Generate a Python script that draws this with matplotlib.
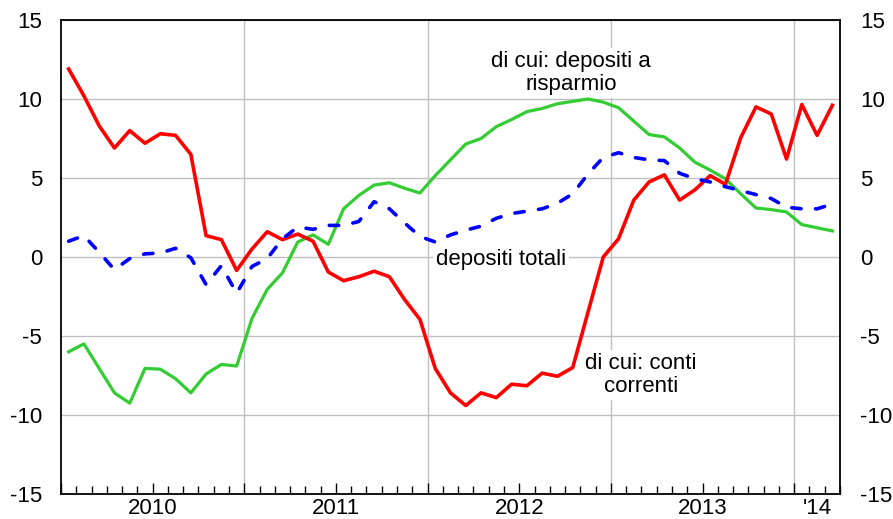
import numpy as np
import matplotlib.pyplot as plt

plt.rcParams['font.family'] = ['Liberation Sans', 'DejaVu Sans']

# monthly data, Jan 2010 - Mar 2014 (percent changes)
conti_correnti = [11.9, 10.2, 8.3, 6.9, 8.0, 7.2, 7.8, 7.7, 6.5, 1.35, 1.1, -0.85,
                  0.5, 1.6, 1.1, 1.45, 1.0, -0.95, -1.5, -1.25, -0.9, -1.25, -2.7, -3.95,
                  -7.05, -8.6, -9.4, -8.6, -8.9, -8.05, -8.15, -7.35, -7.55, -7.0, -3.5, 0.0,
                  1.15, 3.6, 4.75, 5.2, 3.6, 4.25, 5.15, 4.6, 7.55, 9.5, 9.05, 6.2,
                  9.65, 7.7, 9.6]
depositi_risparmio = [-6.0, -5.5, -7.05, -8.6, -9.25, -7.05, -7.1, -7.7, -8.6, -7.4, -6.8, -6.9,
                      -3.9, -2.05, -1.0, 0.95, 1.4, 0.8, 3.05, 3.9, 4.55, 4.7, 4.35, 4.05,
                      5.15, 6.15, 7.15, 7.5, 8.25, 8.7, 9.2, 9.4, 9.7, 9.85, 10.0, 9.8,
                      9.45, 8.6, 7.75, 7.6, 6.9, 6.0, 5.5, 4.95, 4.0, 3.1, 3.0, 2.85,
                      2.05, 1.85, 1.65]
depositi_totali = [1.0, 1.35, 0.3, -0.8, -0.1, 0.2, 0.25, 0.55, -0.05, -1.75, -0.55, -2.3,
                   -0.6, -0.1, 1.15, 1.9, 1.75, 2.0, 2.0, 2.25, 3.5, 3.05, 2.15, 1.3,
                   0.95, 1.4, 1.7, 1.95, 2.45, 2.75, 2.9, 3.05, 3.4, 4.0, 5.25, 6.3,
                   6.6, 6.3, 6.15, 6.1, 5.3, 4.95, 4.75, 4.45, 4.2, 3.95, 3.7, 3.15,
                   3.05, 3.05, 3.35]
year_labels = ['2010', '2011', '2012', '2013', "'14"]

FS = 16
n = len(conti_correnti)
x = np.arange(n) + 0.5  # mid-month positions

fig = plt.figure(figsize=(8.93, 5.19), dpi=100)
ax = fig.add_axes([61 / 893, 1 - 494 / 519, 779 / 893, 474 / 519])

ax.plot(x, depositi_risparmio, color='#33cc33', lw=2.3, solid_joinstyle='round', zorder=3)
ax.plot(x, conti_correnti, color='#ff0000', lw=2.6, solid_joinstyle='round', zorder=4)
ax.plot(x, depositi_totali, color='#0000ff', lw=2.6, dashes=(2.6, 4.0),
        dash_capstyle='round', zorder=5)

yt = [-15, -10, -5, 0, 5, 10, 15]
ax.set_xlim(0, 51)
ax.set_ylim(-15, 15)
ax.set_yticks(yt)
ax.set_yticklabels([str(v) for v in yt])
ax.yaxis.grid(True, color='#c0c0c0', lw=1)
ax.tick_params(axis='y', length=0, pad=13.5, labelsize=FS)

# year boundaries
for yb in range(12, n, 12):
    ax.axvline(yb, color='#c0c0c0', lw=1, zorder=1)

# x ticks: long every 6 months, short every month, labels mid-year
major = list(range(0, n + 1, 6))
ax.set_xticks(major)
ax.set_xticklabels([''] * len(major))
ax.set_xticks(range(0, n + 1), minor=True)
ax.tick_params(axis='x', which='major', direction='in', length=8, width=1)
ax.tick_params(axis='x', which='minor', direction='in', length=5.5, width=1)
sec = ax.secondary_xaxis('bottom')
sec.set_xticks([6, 18, 30, 42, 49.5])
sec.set_xticklabels(year_labels)
sec.tick_params(length=0, pad=3, labelsize=FS)
sec.spines['bottom'].set_visible(False)

for s in ax.spines.values():
    s.set_color('black')
    s.set_linewidth(1.3)

ax2 = ax.twinx()
ax2.set_ylim(-15, 15)
ax2.set_yticks(yt)
ax2.set_yticklabels([str(v) for v in yt])
ax2.tick_params(axis='y', length=0, pad=14.4, labelsize=FS)
for s in ax2.spines.values():
    s.set_visible(False)

box = dict(facecolor='white', edgecolor='none', pad=2)
ax.text(28.8, -0.15, 'depositi totali', ha='center', va='center', fontsize=FS,
        bbox=box, zorder=2)
ax.text(33.4, 11.65, 'di cui: depositi a\nrisparmio', ha='center', va='center',
        fontsize=FS, linespacing=1.15, bbox=box, zorder=2)
ax.text(37.95, -7.45, 'di cui: conti\ncorrenti', ha='center', va='center',
        fontsize=FS, linespacing=1.15, bbox=box, zorder=2)

fig.savefig('out.png', dpi=100)
